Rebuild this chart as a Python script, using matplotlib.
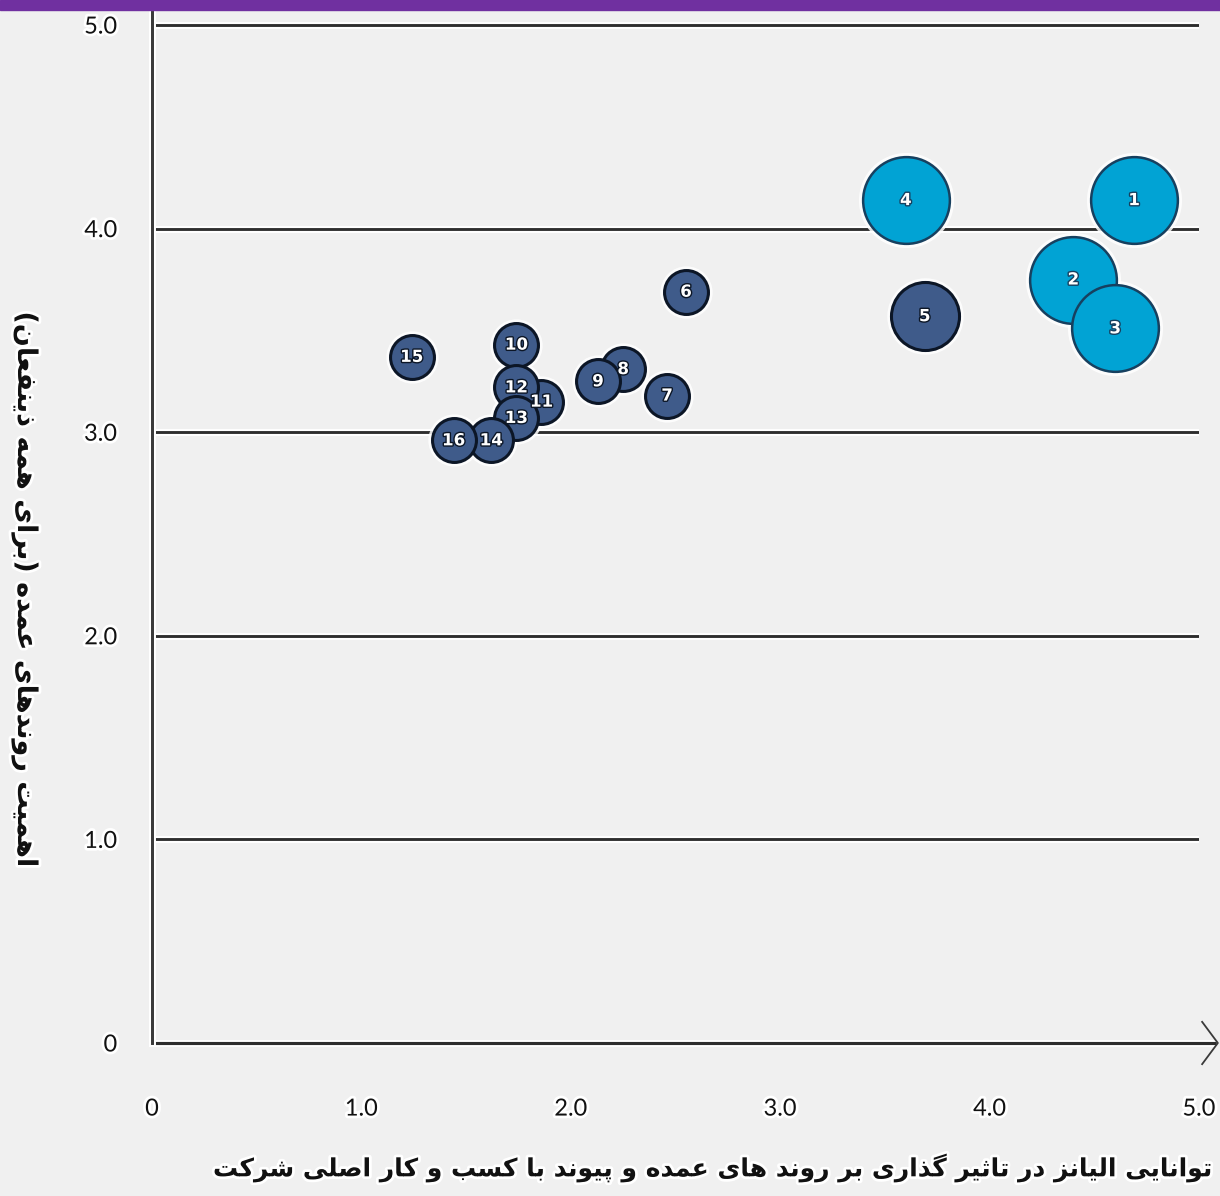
import matplotlib
matplotlib.use("Agg")
import matplotlib.pyplot as plt
import matplotlib.patheffects as pe
from matplotlib.patches import Rectangle

# ---------------- data ----------------
labels = ["1", "2", "3", "4", "5", "6", "7", "8", "9", "10", "11", "12", "13", "14", "15", "16"]
x_vals = [4.69, 4.40, 4.60, 3.60, 3.69, 2.55, 2.46, 2.25, 2.13, 1.74, 1.86, 1.74, 1.74, 1.62, 1.24, 1.44]
y_vals = [4.14, 3.75, 3.51, 4.14, 3.57, 3.69, 3.18, 3.31, 3.25, 3.43, 3.15, 3.22, 3.07, 2.96, 3.37, 2.96]
bubble_size = [3.9, 3.9, 3.9, 3.9, 2.4, 1.0, 1.0, 1.0, 1.0, 1.0, 1.0, 1.0, 1.0, 1.0, 1.0, 1.0]
group = ["hi", "hi", "hi", "hi", "lo", "lo", "lo", "lo", "lo", "lo", "lo", "lo", "lo", "lo", "lo", "lo"]
x_ticks = [0, 1, 2, 3, 4, 5]
x_tick_labels = ["0", "1.0", "2.0", "3.0", "4.0", "5.0"]
y_ticks = [0, 1, 2, 3, 4, 5]
y_tick_labels = ["0", "1.0", "2.0", "3.0", "4.0", "5.0"]
x_title = "توانایی الیانز در تاثیر گذاری بر روند های عمده و پیوند با کسب و کار اصلی شرکت"
y_title = "اهمیت روندهای عمده (برای همه ذینفعان)"

# ---------------- simple Persian shaping (matplotlib has no complex text layout) ----------------
FORMS = {
    "ا": (0xFE8D, 0xFE8E, None, None), "آ": (0xFE81, 0xFE82, None, None),
    "ب": (0xFE8F, 0xFE90, 0xFE91, 0xFE92), "پ": (0xFB56, 0xFB57, 0xFB58, 0xFB59),
    "ت": (0xFE95, 0xFE96, 0xFE97, 0xFE98), "ث": (0xFE99, 0xFE9A, 0xFE9B, 0xFE9C),
    "ج": (0xFE9D, 0xFE9E, 0xFE9F, 0xFEA0), "چ": (0xFB7A, 0xFB7B, 0xFB7C, 0xFB7D),
    "ح": (0xFEA1, 0xFEA2, 0xFEA3, 0xFEA4), "خ": (0xFEA5, 0xFEA6, 0xFEA7, 0xFEA8),
    "د": (0xFEA9, 0xFEAA, None, None), "ذ": (0xFEAB, 0xFEAC, None, None),
    "ر": (0xFEAD, 0xFEAE, None, None), "ز": (0xFEAF, 0xFEB0, None, None),
    "ژ": (0xFB8A, 0xFB8B, None, None),
    "س": (0xFEB1, 0xFEB2, 0xFEB3, 0xFEB4), "ش": (0xFEB5, 0xFEB6, 0xFEB7, 0xFEB8),
    "ص": (0xFEB9, 0xFEBA, 0xFEBB, 0xFEBC), "ض": (0xFEBD, 0xFEBE, 0xFEBF, 0xFEC0),
    "ط": (0xFEC1, 0xFEC2, 0xFEC3, 0xFEC4), "ظ": (0xFEC5, 0xFEC6, 0xFEC7, 0xFEC8),
    "ع": (0xFEC9, 0xFECA, 0xFECB, 0xFECC), "غ": (0xFECD, 0xFECE, 0xFECF, 0xFED0),
    "ف": (0xFED1, 0xFED2, 0xFED3, 0xFED4), "ق": (0xFED5, 0xFED6, 0xFED7, 0xFED8),
    "ک": (0xFB8E, 0xFB8F, 0xFB90, 0xFB91), "گ": (0xFB92, 0xFB93, 0xFB94, 0xFB95),
    "ل": (0xFEDD, 0xFEDE, 0xFEDF, 0xFEE0), "م": (0xFEE1, 0xFEE2, 0xFEE3, 0xFEE4),
    "ن": (0xFEE5, 0xFEE6, 0xFEE7, 0xFEE8), "و": (0xFEED, 0xFEEE, None, None),
    "ه": (0xFEE9, 0xFEEA, 0xFEEB, 0xFEEC), "ی": (0xFBFC, 0xFBFD, 0xFBFE, 0xFBFF),
    "ئ": (0xFE89, 0xFE8A, 0xFE8B, 0xFE8C),
}
MIRROR = {"(": ")", ")": "("}


def dual(c):
    return c in FORMS and FORMS[c][2] is not None


def shape(text):
    out = []
    n = len(text)
    for i, c in enumerate(text):
        if c not in FORMS:
            out.append(MIRROR.get(c, c))
            continue
        prev_c = text[i - 1] if i > 0 else ""
        next_c = text[i + 1] if i < n - 1 else ""
        jp = dual(prev_c)
        jn = dual(c) and next_c in FORMS
        iso, fin, ini, med = FORMS[c]
        if jp and jn:
            code = med
        elif jp:
            code = fin
        elif jn:
            code = ini
        else:
            code = iso
        out.append(chr(code))
    return "".join(reversed(out))


# ---------------- figure ----------------
W, H = 1220, 1196
fig = plt.figure(figsize=(W / 100, H / 100), dpi=100, facecolor="#f0f0f0")
fig.patches.append(Rectangle((0, 1 - 10 / H), 1, 10 / H, transform=fig.transFigure,
                             color="#7030a0", zorder=5))

ax = fig.add_axes([152 / W, (H - 1043) / H, (1199 - 152) / W, (1043 - 12) / H])
ax.set_facecolor("none")
ax.set_xlim(0, 5)
ax.set_ylim(0, 5 * 1031 / 1018)

for s in ["top", "right", "bottom"]:
    ax.spines[s].set_visible(False)
ax.spines["left"].set_color("#3a3a3a")
ax.spines["left"].set_linewidth(2.0)
ax.spines["left"].set_path_effects([pe.withStroke(linewidth=5, foreground="white"), pe.Normal()])

halo = [pe.withStroke(linewidth=5, foreground="white"), pe.Normal()]
for yv in y_ticks[1:]:
    ax.axhline(yv, color="#2e2e2e", lw=1.8, zorder=1, path_effects=halo)

# x axis line with chevron arrow
ax.plot([0, 1.016], [0, 0], transform=ax.transAxes, color="#2e2e2e", lw=2.2,
        clip_on=False, zorder=2, path_effects=halo, solid_capstyle="butt")
ax.plot([1.003, 1.018, 1.003], [0.0205, 0, -0.0205], transform=ax.transAxes,
        color="#3a3a3a", lw=1.3, clip_on=False, zorder=2)

ax.set_xticks(x_ticks)
ax.set_xticklabels(x_tick_labels)
ax.set_yticks(y_ticks)
ax.set_yticklabels(y_tick_labels)
ax.tick_params(axis="both", length=0, labelsize=17, labelcolor="#111111")
ax.tick_params(axis="y", pad=25)
ax.tick_params(axis="x", pad=40)
for t in ax.get_xticklabels() + ax.get_yticklabels():
    t.set_fontfamily("Lato")
    t.set_path_effects([pe.withStroke(linewidth=4, foreground="white")])

# bubbles
scale = 1000
fill = {"hi": "#01a3d4", "lo": "#3f5b8a"}
edge = {"hi": "#17405f", "lo": "#0c1626"}
edge_w = {"hi": 1.8, "lo": 2.2}
for xi, yi, si, g, lab in zip(x_vals, y_vals, bubble_size, group, labels):
    s = si * scale
    d = s ** 0.5
    ax.scatter([xi], [yi], s=(d + 6) ** 2, color="white", alpha=0.85, lw=0, zorder=3)
for xi, yi, si, g, lab in zip(x_vals, y_vals, bubble_size, group, labels):
    ax.scatter([xi], [yi], s=si * scale, color=fill[g], edgecolor=edge[g], lw=edge_w[g], zorder=4)
    ax.text(xi, yi, lab, color="white", fontsize=12, fontweight="bold", family="DejaVu Sans",
            ha="center", va="center", zorder=6,
            path_effects=[pe.withStroke(linewidth=2, foreground=edge[g])])

# axis titles
fig.text(1215 / W, (H - 1168) / H, shape(x_title), ha="right", va="center",
         fontsize=18, fontweight="bold", family="DejaVu Sans", color="#111111",
         path_effects=[pe.withStroke(linewidth=4, foreground="white")])
fig.text(25 / W, (H - 590) / H, shape(y_title), ha="center", va="center", rotation=270,
         fontsize=19.5, fontweight="bold", family="DejaVu Sans", color="#111111",
         path_effects=[pe.withStroke(linewidth=4, foreground="white")])

fig.savefig("out.png", dpi=100, facecolor=fig.get_facecolor())
